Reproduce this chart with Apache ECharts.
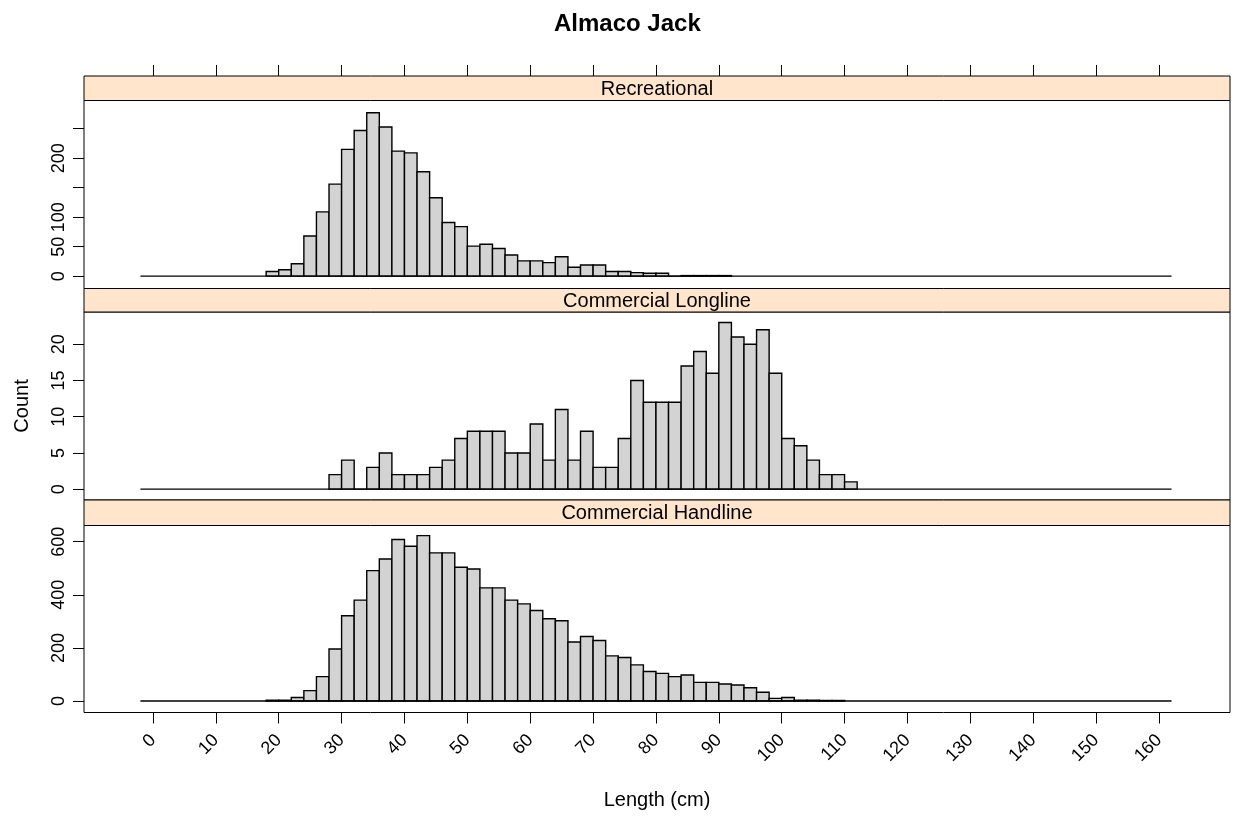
<!DOCTYPE html>
<html><head><meta charset="utf-8">
<script src="https://cdn.jsdelivr.net/npm/echarts@6/dist/echarts.min.js"></script>
<style>html,body{margin:0;padding:0;background:#fff}#c{width:1238px;height:818px}</style>
</head><body><div id="c"></div>
<script>
// ---- data ----
const binWidth = 2;
const panelNames = ['Recreational', 'Commercial Longline', 'Commercial Handline'];
const recStart = 18;
const recCounts = [8, 11, 21, 68, 109, 156, 215, 247, 277, 253, 212, 209, 177, 133, 91, 84, 51, 54, 47, 36, 26, 26, 23, 33, 15, 19, 19, 8, 8, 6, 5, 5, 0, 1, 1, 1, 1];
const llStart = 28;
const llCounts = [2, 4, 0, 3, 5, 2, 2, 2, 3, 4, 7, 8, 8, 8, 5, 5, 9, 4, 11, 4, 8, 3, 3, 7, 15, 12, 12, 12, 17, 19, 16, 23, 21, 20, 22, 16, 7, 6, 4, 2, 2, 1];
const hlStart = 18;
const hlCounts = [3, 3, 13, 39, 92, 196, 321, 380, 491, 535, 608, 583, 623, 558, 558, 504, 497, 426, 426, 380, 366, 341, 310, 302, 222, 243, 228, 170, 164, 136, 111, 104, 92, 98, 70, 70, 64, 60, 50, 33, 10, 13, 3, 3, 2, 2];
const baselineRange = [-2, 162];
const xTicks = [0, 10, 20, 30, 40, 50, 60, 70, 80, 90, 100, 110, 120, 130, 140, 150, 160];
const recTicks = [0, 50, 100, 150, 200, 250];
const recTickLabels = [0, 50, 100, 200];
const llTicks = [0, 5, 10, 15, 20];
const hlTicks = [0, 200, 400, 600];

// ---- layout ----
const FONT = "'Liberation Sans', Arial, sans-serif";
const L = 84, R = 8, W = 1238 - L - R;
const panels = [
  { stripTop: 76, top: 100.5, bottom: 288.5, ymin: -20.9, ymax: 297.8, ticks: recTicks, labels: recTickLabels, start: recStart, counts: recCounts },
  { stripTop: 288.5, top: 312, bottom: 500, ymin: -1.5, ymax: 24.46, ticks: llTicks, labels: llTicks, start: llStart, counts: llCounts },
  { stripTop: 500, top: 525.5, bottom: 712.5, ymin: -43.3, ymax: 661, ticks: hlTicks, labels: hlTicks, start: hlStart, counts: hlCounts }
];

function bins(start, counts) {
  return counts.map((c, i) => [start + i * binWidth, start + (i + 1) * binWidth, c]);
}
function renderItem(params, api) {
  const p0 = api.coord([api.value(0), 0]);
  const p1 = api.coord([api.value(1), api.value(2)]);
  return {
    type: 'rect',
    shape: { x: p0[0], y: p1[1], width: p1[0] - p0[0], height: p0[1] - p1[1] },
    style: { fill: '#d3d3d3', stroke: '#000', lineWidth: 1.4 }
  };
}

const grids = [], xAxes = [], yAxes = [], series = [], graphics = [];
panels.forEach((p, i) => {
  grids.push({ left: L, right: R, top: p.top, height: p.bottom - p.top, show: true, borderColor: '#000', borderWidth: 1, backgroundColor: '#fff' });
  const isTop = i === 0, isBottom = i === 2;
  xAxes.push({
    type: 'value', gridIndex: i, min: -10.97, max: 171.3,
    position: isTop ? 'top' : 'bottom',
    offset: isTop ? (p.top - p.stripTop) : 0,
    splitLine: { show: false },
    axisLine: { show: false, onZero: false },
    axisTick: { show: isTop || isBottom, customValues: xTicks, length: 11, lineStyle: { color: '#000', width: 1 } },
    axisLabel: isBottom ? { show: true, customValues: xTicks, rotate: 45, margin: 25, color: '#000', fontSize: 18, fontFamily: FONT } : { show: false },
    name: isBottom ? 'Length (cm)' : '', nameLocation: 'middle', nameGap: 78,
    nameTextStyle: { color: '#000', fontSize: 20, fontFamily: FONT }
  });
  yAxes.push({
    type: 'value', gridIndex: i, min: p.ymin, max: p.ymax,
    position: 'left',
    splitLine: { show: false },
    axisLine: { show: false, onZero: false },
    axisTick: { show: true, customValues: p.ticks, length: 11, lineStyle: { color: '#000', width: 1 } },
    axisLabel: { show: true, customValues: p.labels, rotate: 90, margin: 16, color: '#000', fontSize: 18, fontFamily: FONT },
    name: i === 1 ? 'Count' : '', nameLocation: 'middle', nameGap: 52,
    nameTextStyle: { color: '#000', fontSize: 20, fontFamily: FONT }
  });
  series.push({
    type: 'line', xAxisIndex: i, yAxisIndex: i, silent: true, symbol: 'none',
    data: [[baselineRange[0], 0], [baselineRange[1], 0]],
    lineStyle: { color: '#000', width: 1.4 }
  });
  series.push({
    type: 'custom', xAxisIndex: i, yAxisIndex: i, renderItem: renderItem,
    data: bins(p.start, p.counts), encode: { x: [0, 1], y: 2 }
  });
  graphics.push({
    type: 'rect', shape: { x: L, y: p.stripTop, width: W, height: p.top - p.stripTop },
    style: { fill: '#ffe5cc', stroke: '#000', lineWidth: 1 }, z: 10
  });
  graphics.push({
    type: 'text', x: L + W / 2, y: (p.stripTop + p.top) / 2 + 1,
    style: { text: panelNames[i], fill: '#000', font: '20px ' + FONT, textAlign: 'center', textVerticalAlign: 'middle' }, z: 11
  });
});

const chart = echarts.init(document.getElementById('c'), null, { renderer: 'canvas' });
chart.setOption({
  animation: false,
  backgroundColor: '#fff',
  title: { text: 'Almaco Jack', left: 549, top: 7, textStyle: { color: '#000', fontSize: 24, fontWeight: 'bold', fontFamily: FONT } },
  grid: grids, xAxis: xAxes, yAxis: yAxes, series: series, graphic: graphics
});
</script></body></html>
